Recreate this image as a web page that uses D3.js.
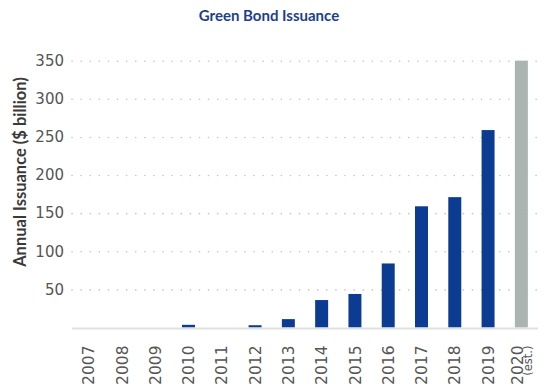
<!DOCTYPE html>
<html>
<head>
<meta charset="utf-8">
<script src="https://cdn.jsdelivr.net/npm/d3@7"></script>
<style>
  body { margin: 0; background: #fff; }
  svg { display: block; }
</style>
</head>
<body>
<svg id="chart" width="545" height="390"></svg>
<script>
const years = ["2007","2008","2009","2010","2011","2012","2013","2014","2015","2016","2017","2018","2019","2020"]
const issuance = [0, 0, 0, 3.5, 0, 3, 11, 36, 44, 84, 159, 171, 259, 350]
const yTicks = [50, 100, 150, 200, 250, 300, 350]
const estimateYear = "2020"

const svg = d3.select("#chart")
const plotLeft = 72, plotRight = 538, plotTop = 60.7, plotBottom = 327.5

const x = d3.scaleBand().domain(years).range([plotLeft, plotRight]).paddingInner(0.61).paddingOuter(0.305)
const y = d3.scaleLinear().domain([0, 350]).range([plotBottom, plotTop])

// title
svg.append("text")
    .attr("x", 269).attr("y", 21)
    .attr("text-anchor", "middle")
    .attr("font-family", "Lato, sans-serif")
    .attr("font-weight", "bold")
    .attr("font-size", 15)
    .attr("fill", "#1d3f8c")
    .text("Green Bond Issuance")

// y axis with dotted grid
const yAxis = svg.append("g")
    .attr("transform", `translate(${plotLeft},0)`)
    .call(d3.axisLeft(y).tickValues(yTicks).tickSize(-(plotRight - plotLeft)).tickPadding(8))
yAxis.select(".domain").remove()
yAxis.selectAll(".tick line")
    .attr("stroke", "#c4c8c8")
    .attr("stroke-width", 1.6)
    .attr("stroke-linecap", "round")
    .attr("stroke-dasharray", "0.1,9")
yAxis.selectAll(".tick text")
    .attr("font-family", "DejaVu Sans, sans-serif")
    .attr("font-size", 15)
    .attr("fill", "#555")

svg.append("text")
    .attr("transform", "translate(26,172) rotate(-90)")
    .attr("text-anchor", "middle")
    .attr("font-family", "Lato, sans-serif")
    .attr("font-weight", "bold")
    .attr("font-size", 16.5)
    .attr("fill", "#3a3a3a")
    .text("Annual Issuance ($ billion)")

// bars
svg.append("g")
    .selectAll("rect")
    .data(years)
    .enter().append("rect")
    .attr("x", d => x(d))
    .attr("width", x.bandwidth())
    .attr("y", (d, i) => y(issuance[i]))
    .attr("height", (d, i) => y(0) - y(issuance[i]))
    .attr("fill", d => d === estimateYear ? "#aab4b1" : "#0b3c91")

// baseline
svg.append("line")
    .attr("x1", plotLeft).attr("x2", plotRight)
    .attr("y1", y(0) + 1).attr("y2", y(0) + 1)
    .attr("stroke", "#dfe1e1")
    .attr("stroke-width", 2)

// x labels
const xAxis = svg.append("g")
    .attr("transform", `translate(0,${plotBottom})`)
    .call(d3.axisBottom(x).tickSize(0).tickFormat(""))
xAxis.select(".domain").remove()
xAxis.selectAll(".tick").each(function (d) {
    const g = d3.select(this)
    const est = d === estimateYear
    g.append("text")
        .attr("transform", `translate(${est ? -4 : 0},18) rotate(-90)`)
        .attr("text-anchor", "end")
        .attr("dy", "0.36em")
        .attr("font-family", "DejaVu Sans, sans-serif")
        .attr("font-size", 15.5)
        .attr("fill", "#555")
        .text(d)
    if (est) {
        g.append("text")
            .attr("transform", "translate(7,18) rotate(-90)")
            .attr("text-anchor", "end")
            .attr("dy", "0.36em")
            .attr("font-family", "DejaVu Sans, sans-serif")
            .attr("font-size", 11.5)
            .attr("fill", "#555")
            .text("(est.)")
    }
})
</script>
</body>
</html>
